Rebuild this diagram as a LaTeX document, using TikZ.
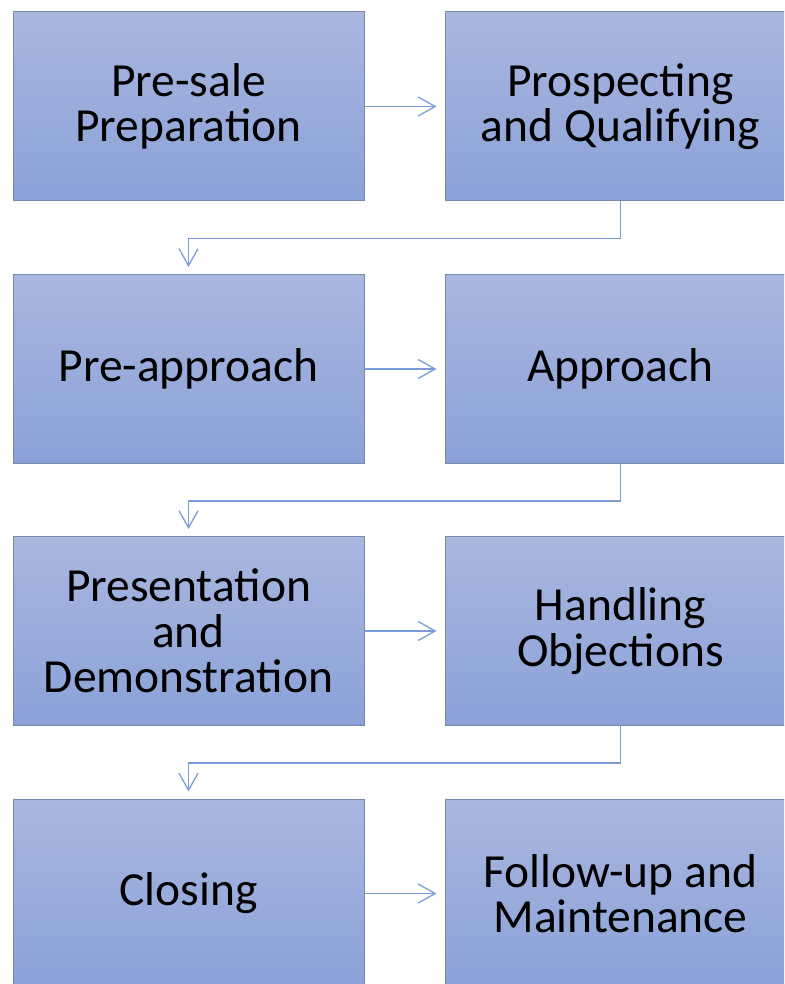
\documentclass[tikz,border=0pt]{standalone}
\usepackage{fontspec}
\setmainfont{Carlito}
\usetikzlibrary{arrows.meta}
\definecolor{boxtop}{HTML}{AAB7DF}
\definecolor{boxbot}{HTML}{8AA1D8}
\definecolor{boxline}{HTML}{7A88AE}
\definecolor{conn}{HTML}{7B9CDB}
\begin{document}
\begin{tikzpicture}[x=1pt,y=-1pt,
  stage/.style={draw=boxline, line width=1pt, top color=boxtop, bottom color=boxbot,
    minimum width=351pt, minimum height=189pt, inner sep=0pt, align=center,
    font=\fontsize{47.5}{45.5}\selectfont, text=black},
  flow/.style={draw=conn, line width=1.3pt, -{Straight Barb[length=17pt,width=19pt]}}]
\useasboundingbox (0,0) rectangle (784,984);
\clip (0,0) rectangle (784,984);
\fill[white] (0,0) rectangle (784,984);
\node[stage] (a) at (188.5,106.5) {Pre-sale\\Preparation};
\node[stage] (b) at (620.5,106.5) {Prospecting\\and Qualifying};
\node[stage] (c) at (188.5,369) {Pre-approach};
\node[stage] (d) at (620.5,369) {Approach};
\node[stage] (e) at (188.5,631) {Presentation\\and\\Demonstration};
\node[stage] (f) at (620.5,631) {Handling\\Objections};
\node[stage] (g) at (188.5,893.5) {Closing};
\node[stage] (h) at (620.5,893.5) {Follow-up and\\Maintenance};
\draw[flow, shorten >=8pt] (a.east) -- (b.west);
\draw[flow, shorten >=8pt] (c.east) -- (d.west);
\draw[flow, shorten >=8pt] (e.east) -- (f.west);
\draw[flow, shorten >=8pt] (g.east) -- (h.west);
\draw[flow, shorten >=7pt] (b.south) -- ++(0,37) -| (c.north);
\draw[flow, shorten >=7pt] (d.south) -- ++(0,37) -| (e.north);
\draw[flow, shorten >=7pt] (f.south) -- ++(0,37) -| (g.north);
\end{tikzpicture}
\end{document}
